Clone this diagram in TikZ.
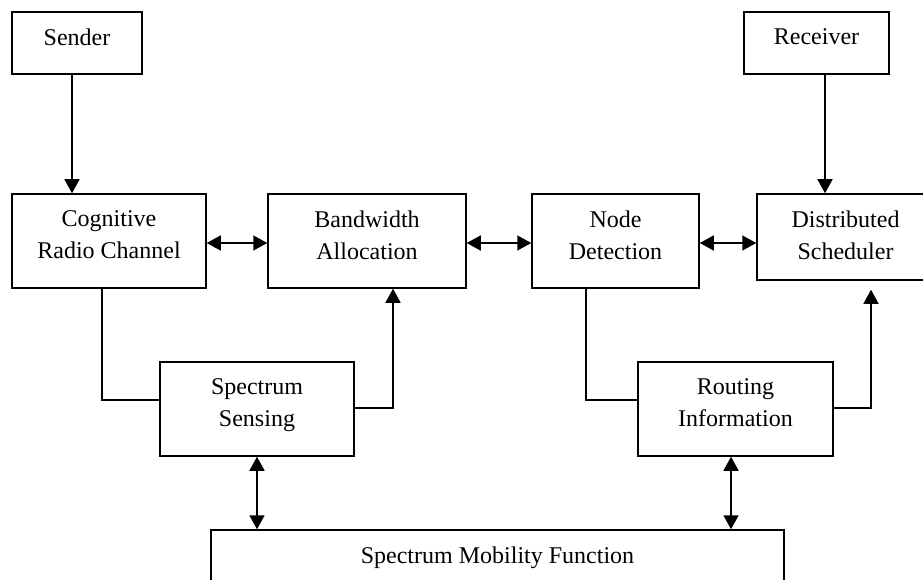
\documentclass[tikz,border=0pt]{standalone}
\usepackage{fontspec}
\setmainfont{Liberation Serif}
\usetikzlibrary{arrows.meta,positioning,calc}
\tikzset{
  block/.style={
    % The shape:
    rectangle,
    % The border:
    draw=black, line width=1.5pt,
    inner sep=0pt
  },
  caption/.style={
    % text sits in the upper half of the box
    anchor=north, inner sep=0pt, yshift=-17pt,
    align=center, font=\fontsize{24}{32}\selectfont
  },
  line/.style={draw, line width=1.5pt, -{Triangle[length=14pt,width=15pt]}},
  both/.style={line, {Triangle[length=14pt,width=15pt]}-{Triangle[length=14pt,width=15pt]}},
  plain/.style={draw, line width=1.5pt}
}

\begin{document}
\begin{tikzpicture}[x=1pt,y=-1pt]
\useasboundingbox (0,0) rectangle (923,580);
% Draw blocks
\node [block, minimum width=130pt, minimum height=62pt, label={[caption]north:Sender}] (sender) at (77,43) {};
\node [block, minimum width=145pt, minimum height=62pt, label={[caption]north:Receiver}] (receiver) at (816.5,43) {};
\node [block, minimum width=194pt, minimum height=94pt, label={[caption]north:Cognitive\\Radio Channel}] (crc) at (109,241) {};
\node [block, minimum width=198pt, minimum height=94pt, label={[caption]north:Bandwidth\\Allocation}] (bw) at (367,241) {};
\node [block, minimum width=167pt, minimum height=94pt, label={[caption]north:Node\\Detection}] (nd) at (615.5,241) {};
\node [block, minimum width=177pt, minimum height=86pt, label={[caption]north:Distributed\\Scheduler}] (ds) at (845.5,237) {};
\node [block, minimum width=194pt, minimum height=94pt, label={[caption]north:Spectrum\\Sensing}] (ss) at (257,409) {};
\node [block, minimum width=195pt, minimum height=94pt, label={[caption]north:Routing\\Information}] (ri) at (735.5,409) {};
\node [block, minimum width=573pt, minimum height=70pt, label={[caption]north:Spectrum Mobility Function}] (smf) at (497.5,565) {};
% Draw edges
\path [line] ([xshift=-5pt]sender.south) -- ([xshift=-5pt]sender.south |- crc.north);
\path [line] ([xshift=8.5pt]receiver.south) -- ([xshift=8.5pt]receiver.south |- ds.north);
\path [both] ([yshift=-2pt]crc.east) -- ([yshift=-2pt]bw.west);
\path [both] ([yshift=-2pt]bw.east) -- ([yshift=-2pt]nd.west);
\path [both] ([yshift=-2pt]nd.east) -- ([yshift=-2pt]nd.east -| ds.west);
\path [plain] ([xshift=-7pt]crc.south) |- ([yshift=9pt]ss.west);
\path [line] ([yshift=1pt]ss.east) -| ([xshift=26pt]bw.south);
\path [plain] ([xshift=-29.5pt]nd.south) |- ([yshift=9pt]ri.west);
\path [line, shorten >=9pt] ([yshift=1pt]ri.east) -| ([xshift=25.5pt]ds.south);
\path [both] (ss.south) -- (ss.south |- smf.north);
\path [both] ([xshift=-4.5pt]ri.south) -- ([xshift=-4.5pt]ri.south |- smf.north);
\end{tikzpicture}
\end{document}
